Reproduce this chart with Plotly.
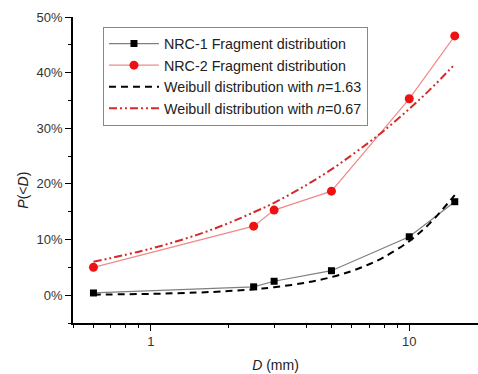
import plotly.graph_objects as go

# Data
d_points = [0.6, 2.5, 3, 5, 10, 15]
nrc1 = [0.4, 1.5, 2.5, 4.4, 10.5, 16.8]
nrc2 = [5.0, 12.4, 15.3, 18.7, 35.3, 46.6]

d_curve = [0.6, 1, 1.5, 2, 2.5, 3, 4, 5, 6, 7, 8, 10, 12, 15]
weib_163 = [0.10, 0.24, 0.46, 0.74, 1.06, 1.43, 2.27, 3.25, 4.35, 5.56, 6.86, 9.72, 12.9, 18.0]
weib_067 = [6.0, 8.36, 10.8, 12.96, 14.9, 16.6, 19.8, 22.6, 25.2, 27.5, 29.6, 33.5, 36.9, 41.5]

y_ticks = [0, 10, 20, 30, 40, 50]
y_labels = ["0%", "10%", "20%", "30%", "40%", "50%"]
x_ticks = [1, 10]
x_labels = ["1", "10"]
x_minor = [0.5, 0.6, 0.7, 0.8, 0.9, 2, 3, 4, 5, 6, 7, 8, 9, 20]

names = ["NRC-1 Fragment distribution", "NRC-2 Fragment distribution",
         "Weibull distribution with <i>n</i>=1.63", "Weibull distribution with <i>n</i>=0.67"]

fig = go.Figure()
fig.add_trace(go.Scatter(x=d_points, y=nrc1, mode="lines+markers", name=names[0],
                         line=dict(color="#7f7f7f", width=1.2),
                         marker=dict(symbol="square", size=7, color="black")))
fig.add_trace(go.Scatter(x=d_points, y=nrc2, mode="lines+markers", name=names[1],
                         line=dict(color="#f08a8a", width=1.2),
                         marker=dict(symbol="circle", size=9, color="#ee1111")))
fig.add_trace(go.Scatter(x=d_curve, y=weib_163, mode="lines", name=names[2],
                         line=dict(color="black", width=2, dash="7px,5px"), line_shape="spline"))
fig.add_trace(go.Scatter(x=d_curve, y=weib_067, mode="lines", name=names[3],
                         line=dict(color="#d42a2a", width=2, dash="8px,3px,2px,3px,2px,3px"),
                         line_shape="spline"))

font_family = "Liberation Sans, Arial, sans-serif"
fig.update_layout(
    width=478, height=374,
    margin=dict(l=73, r=0, t=17, b=51),
    plot_bgcolor="white", paper_bgcolor="white",
    font=dict(family=font_family, size=13, color="#333333"),
    showlegend=True,
    legend=dict(x=0.074, y=0.968, xanchor="left", yanchor="top",
                bordercolor="#888888", borderwidth=1, bgcolor="white",
                font=dict(size=14.3, color="#222222"), tracegroupgap=0,
                itemwidth=50),
    xaxis=dict(type="log", range=[-0.30103, 1.266],
               tickvals=x_ticks, ticktext=x_labels,
               ticks="outside", ticklen=6, tickwidth=1, tickcolor="black",
               showline=True, linecolor="black", linewidth=1.5,
               showgrid=False, zeroline=False,
               minor=dict(tickvals=x_minor, ticks="outside", ticklen=3,
                          tickcolor="black", showgrid=False),
               title=dict(text="<i>D</i> (mm)", font=dict(size=14, color="#222222"), standoff=12)),
    yaxis=dict(range=[-5, 50], tickvals=y_ticks, ticktext=y_labels,
               ticks="outside", ticklen=6, tickwidth=1, tickcolor="black",
               showline=True, linecolor="black", linewidth=1.5,
               showgrid=False, zeroline=False,
               minor=dict(dtick=5, tick0=-5, ticks="outside", ticklen=3,
                          tickcolor="black", showgrid=False)),
    annotations=[dict(text="<i>P</i>(&lt;<i>D</i>)", xref="paper", yref="paper",
                      x=-0.124, y=0.435, xanchor="center", yanchor="middle",
                      textangle=-90, showarrow=False,
                      font=dict(size=14, color="#222222"))],
)

fig.write_html("out.html")
